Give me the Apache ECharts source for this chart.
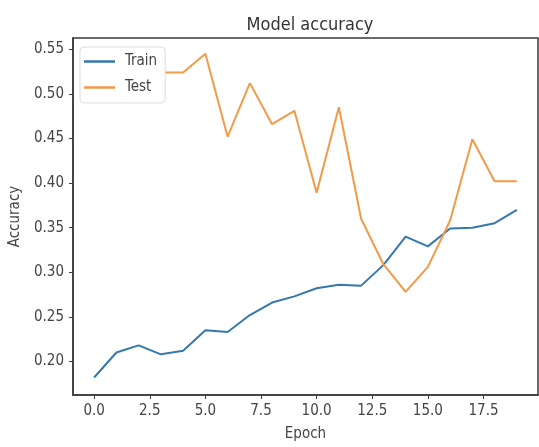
<!DOCTYPE html>
<html>
<head>
<meta charset="utf-8">
<script src="https://cdn.jsdelivr.net/npm/echarts@6/dist/echarts.min.js"></script>
<style>
html,body{margin:0;padding:0;background:#fff;}
#c{width:539px;height:447px;}
</style>
</head>
<body>
<div id="c"></div>
<script>
const epochs = [0,1,2,3,4,5,6,7,8,9,10,11,12,13,14,15,16,17,18,19];
const trainAcc = [0.182,0.210,0.218,0.208,0.212,0.235,0.233,0.252,0.266,0.273,0.282,0.286,0.285,0.308,0.340,0.329,0.349,0.350,0.355,0.370];
const testAcc = [0.510,0.520,0.522,0.524,0.524,0.545,0.452,0.512,0.466,0.481,0.389,0.485,0.360,0.309,0.278,0.306,0.358,0.449,0.402,0.402];
const xTicks = [0,2.5,5,7.5,10,12.5,15,17.5];
const yTicks = [0.20,0.25,0.30,0.35,0.40,0.45,0.50,0.55];

const FONT = '"DejaVu Sans Condensed","DejaVu Sans",sans-serif';
const chart = echarts.init(document.getElementById('c'), null, {renderer:'canvas'});
const axisCol = '#3a3a3a';
const txtCol = '#444';
chart.setOption({
  animation:false,
  backgroundColor:'#fff',
  title:{text:'Model accuracy',left:305,textAlign:'center',top:11,
    textStyle:{fontFamily:FONT,fontSize:18,fontWeight:'normal',color:'#333'}},
  legend:{
    orient:'vertical',left:80,top:47,z:20,
    data:['Train','Test'],
    icon:'rect',itemWidth:31,itemHeight:2.5,itemGap:11,
    backgroundColor:'#fff',borderColor:'#ddd',borderWidth:1,borderRadius:4,
    padding:[7,8,8,4],
    textStyle:{fontFamily:FONT,fontSize:15,color:'#444',padding:[0,0,0,5]}
  },
  grid:{left:73,top:38,width:465,height:359,containLabel:false,show:true,borderColor:axisCol,borderWidth:1.5},
  xAxis:{
    type:'value',min:-0.95,max:19.95,
    name:'Epoch',nameLocation:'middle',nameGap:32,
    nameTextStyle:{fontFamily:FONT,fontSize:15,color:txtCol},
    axisLine:{show:true,onZero:false,lineStyle:{color:axisCol,width:1.5}},
    axisTick:{show:true,length:4,inside:false,customValues:xTicks,lineStyle:{color:axisCol}},
    axisLabel:{customValues:xTicks,margin:9,fontFamily:FONT,fontSize:15,color:txtCol,
      formatter:v=>Number(v).toFixed(1)},
    splitLine:{show:false}
  },
  yAxis:{
    type:'value',min:0.1624,max:0.5626,
    name:'Accuracy',nameLocation:'middle',nameGap:48,nameRotate:90,
    nameTextStyle:{fontFamily:FONT,fontSize:15,color:txtCol},
    axisLine:{show:true,onZero:false,lineStyle:{color:axisCol,width:1.5}},
    axisTick:{show:true,length:4,inside:false,customValues:yTicks,lineStyle:{color:axisCol}},
    axisLabel:{customValues:yTicks,margin:9,fontFamily:FONT,fontSize:15,color:txtCol,
      formatter:v=>Number(v).toFixed(2)},
    splitLine:{show:false}
  },
  series:[
    {name:'Train',type:'line',z:2,data:epochs.map((e,i)=>[e,trainAcc[i]]),
     showSymbol:false,symbol:'none',lineStyle:{width:2,color:'#3478ae'},itemStyle:{color:'#3478ae'}},
    {name:'Test',type:'line',z:2,data:epochs.map((e,i)=>[e,testAcc[i]]),
     showSymbol:false,symbol:'none',lineStyle:{width:2,color:'#f39a48'},itemStyle:{color:'#f39a48'}}
  ]
});
</script>
</body>
</html>
